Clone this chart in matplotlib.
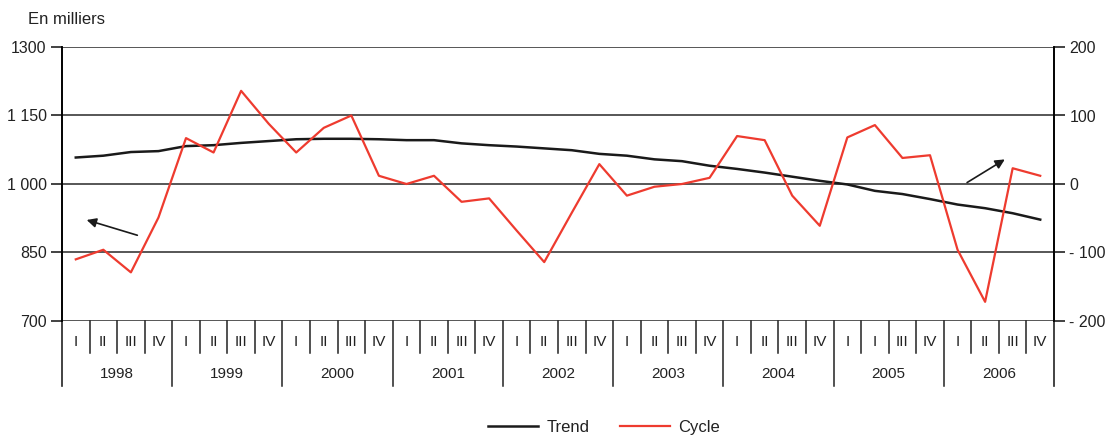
import matplotlib
matplotlib.use("Agg")
import matplotlib.pyplot as plt
from matplotlib.lines import Line2D

plt.rcParams["font.family"] = ["Liberation Sans", "DejaVu Sans"]

# ── data ────────────────────────────────────────────────────────────────────
years = ["1998", "1999", "2000", "2001", "2002", "2003", "2004", "2005", "2006"]
quarters_by_year = [
    ["I", "II", "III", "IV"],
    ["I", "II", "III", "IV"],
    ["I", "II", "III", "IV"],
    ["I", "II", "III", "IV"],
    ["I", "II", "III", "IV"],
    ["I", "II", "III", "IV"],
    ["I", "II", "III", "IV"],
    ["I", "I", "III", "IV"],      # as printed in the source
    ["I", "II", "III", "IV"],
]
trend = [1058, 1062, 1070, 1072, 1083, 1085, 1090, 1094,
         1098, 1099, 1099, 1098, 1096, 1096, 1089, 1085,
         1082, 1078, 1074, 1066, 1062, 1054, 1050, 1040,
         1033, 1025, 1016, 1007, 999, 985, 978, 967,
         955, 947, 936, 922]
cycle = [-110, -96, -129, -49, 67, 46, 136, 88,
         46, 82, 100, 12, 0, 12, -26, -21,
         -68, -114, -42, 29, -17, -4, 0, 9,
         70, 64, -17, -61, 68, 86, 38, 42,
         -96, -172, 23, 12]

left_ticks = [700, 850, 1000, 1150, 1300]
left_labels = ["700", "850", "1 000", "1 150", "1300"]
right_ticks = [-200, -100, 0, 100, 200]
right_labels = ["- 200", "- 100", "0", "100", "200"]

TXT = "#222222"
RED = "#EE3B2F"

fig = plt.figure(figsize=(11.10, 4.36), dpi=100)
ax = fig.add_axes([62 / 1110, 1 - 321 / 436, 992 / 1110, 274 / 436])
ax2 = ax.twinx()

n = len(trend)
x = list(range(n))

ax.set_xlim(-0.5, n - 0.5)
ax.set_ylim(700, 1300)
ax2.set_ylim(-200, 200)

for y in left_ticks:
    ax.axhline(y, color="#3a3a3a", linewidth=1.2, zorder=1)

ax2.plot(x, cycle, color=RED, linewidth=1.6, zorder=3)
ax.plot(x, trend, color="#1a1a1a", linewidth=1.8, zorder=2)

ax.set_yticks(left_ticks)
ax.set_yticklabels(left_labels)
ax2.set_yticks(right_ticks)
ax2.set_yticklabels(right_labels)
ax.set_xticks([])
for a in (ax, ax2):
    a.tick_params(axis="y", length=8, width=1.2, color="#222222",
                  labelsize=11.5, labelcolor=TXT, pad=3)
    a.spines["top"].set_visible(False)
    a.spines["bottom"].set_visible(False)
    a.spines["left"].set_linewidth(1.2)
    a.spines["right"].set_linewidth(1.2)

# ── category axis drawn below the plot ──────────────────────────────────────
tr = ax.get_xaxis_transform()
q_bottom = -32 / 274
y_bottom = -65 / 274
for k in range(1, n):
    low = y_bottom if k % 4 == 0 else q_bottom
    ax.plot([k - 0.5, k - 0.5], [0, low], transform=tr, color="#222222",
            linewidth=1.1, clip_on=False)
for edge in (-0.5, n - 0.5):
    ax.plot([edge, edge], [0, y_bottom], transform=tr, color="#222222",
            linewidth=1.2, clip_on=False)

for i, (yr, qs) in enumerate(zip(years, quarters_by_year)):
    for j, q in enumerate(qs):
        ax.text(4 * i + j, -21 / 274, q, transform=tr, ha="center", va="center",
                fontsize=11, color=TXT)
    ax.text(4 * i + 1.5, -53 / 274, yr, transform=tr, ha="center", va="center",
            fontsize=11, color=TXT)

# ── arrows pointing to each axis ────────────────────────────────────────────
ax.annotate("", xy=(0.3, 923), xytext=(2.33, 886),
            arrowprops=dict(arrowstyle="-|>", color="#1a1a1a", lw=1.2,
                            mutation_scale=14))
ax.annotate("", xy=(33.8, 1057), xytext=(32.26, 1000),
            arrowprops=dict(arrowstyle="-|>", color="#1a1a1a", lw=1.2,
                            mutation_scale=14))

fig.text(28 / 1110, 1 - 19 / 436, "En milliers", ha="left", va="center",
         fontsize=12, color=TXT)

handles = [Line2D([], [], color="#1a1a1a", linewidth=1.8),
           Line2D([], [], color=RED, linewidth=1.6)]
fig.legend(handles, ["Trend", "Cycle"], loc="center",
           bbox_to_anchor=(604 / 1110, 1 - 427 / 436), ncol=2, frameon=False,
           fontsize=12, handlelength=3.0, columnspacing=1.8, handletextpad=0.5,
           labelcolor=TXT)

fig.savefig("out.png", dpi=100)
